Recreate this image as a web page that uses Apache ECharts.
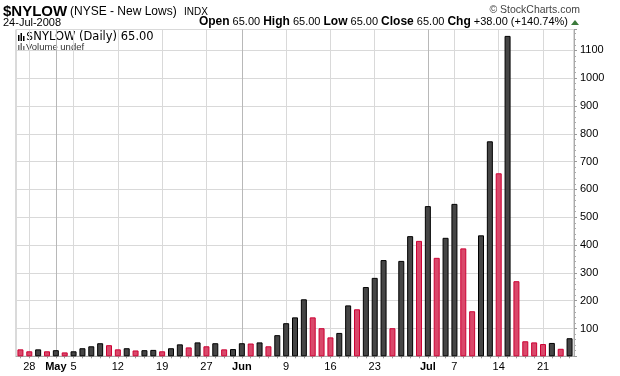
<!DOCTYPE html>
<html>
<head>
<meta charset="utf-8">
<script src="https://cdn.jsdelivr.net/npm/echarts@6/dist/echarts.min.js"></script>
<style>
  html, body { margin: 0; padding: 0; background: #fff; }
  #chart { width: 620px; height: 376px; }
</style>
</head>
<body>
<div id="chart"></div>
<script>
// trading days shown on the chart
const dates = [
  'Apr 25', 'Apr 28', 'Apr 29', 'Apr 30',
  'May 1', 'May 2', 'May 5', 'May 6', 'May 7', 'May 8', 'May 9', 'May 12', 'May 13', 'May 14', 'May 15', 'May 16',
  'May 19', 'May 20', 'May 21', 'May 22', 'May 23', 'May 27', 'May 28', 'May 29', 'May 30',
  'Jun 2', 'Jun 3', 'Jun 4', 'Jun 5', 'Jun 6', 'Jun 9', 'Jun 10', 'Jun 11', 'Jun 12', 'Jun 13',
  'Jun 16', 'Jun 17', 'Jun 18', 'Jun 19', 'Jun 20', 'Jun 23', 'Jun 24', 'Jun 25', 'Jun 26', 'Jun 27', 'Jun 30',
  'Jul 1', 'Jul 2', 'Jul 3', 'Jul 7', 'Jul 8', 'Jul 9', 'Jul 10', 'Jul 11', 'Jul 14', 'Jul 15', 'Jul 16',
  'Jul 17', 'Jul 18', 'Jul 21', 'Jul 22', 'Jul 23', 'Jul 24'
]

// daily close of $NYLOW
const closes = [
  25, 18, 25, 18, 22, 14, 18, 29, 36, 47, 40, 25, 29, 21, 22, 23,
  18, 29, 43, 32, 50, 36, 47, 25, 26,
  47, 46, 50, 36, 76, 119, 140, 205, 140, 101,
  68, 84, 183, 169, 249, 282, 346, 101, 343, 432, 415,
  540, 354, 426, 548, 388, 162, 435, 773, 658, 1152,
  270, 54, 50, 44, 48, 27, 65
]
const prevClose = 30

// x-axis tick labels
const tickDays = ['Apr 28', 'May 5', 'May 12', 'May 19', 'May 27', 'Jun 9', 'Jun 16', 'Jun 23', 'Jul 7', 'Jul 14', 'Jul 21']
const monthStarts = ['May 1', 'Jun 2', 'Jul 1']

const upFill = '#454545'
const upBorder = '#000000'
const downFill = '#d9486a'
const downBorder = '#cc0033'

const chart = echarts.init(document.getElementById('chart'))

// black when the close is above the previous close, red otherwise
const barData = closes.map((v, i) => {
  const prev = i === 0 ? prevClose : closes[i - 1]
  const up = v > prev
  return {
    value: v,
    itemStyle: {
      color: up ? upFill : downFill,
      borderColor: up ? upBorder : downBorder,
      borderWidth: 1
    }
  }
})

const font = '"Liberation Sans", Arial, sans-serif'

const gridLeft = 16
const gridRight = 46
const plotWidth = 620 - gridLeft - gridRight
const halfBand = plotWidth / dates.length / 2

// vertical date lines sit on the middle of a bar, so they use a point axis
// on a second grid that is inset by half a band
function dateLineAxis(list, color) {
  return {
    type: 'category',
    gridIndex: 1,
    data: dates,
    boundaryGap: false,
    axisLine: { show: false },
    axisTick: { show: false },
    axisLabel: { show: false },
    splitLine: {
      show: true,
      interval: (idx, val) => list.includes(val),
      lineStyle: { color: color, width: 1 }
    }
  }
}

const option = {
  animation: false,
  backgroundColor: '#fff',
  title: {
    text: '{b|Open} 65.00 {b|High} 65.00 {b|Low} 65.00 {b|Close} 65.00 {b|Chg} +38.00 (+140.74%)',
    right: 52,
    top: 16,
    padding: 0,
    textStyle: {
      fontFamily: font,
      fontSize: 11,
      fontWeight: 'normal',
      color: '#000',
      rich: {
        b: { fontFamily: font, fontSize: 12, fontWeight: 'bold', color: '#000' }
      }
    }
  },
  grid: [
    {
      left: gridLeft,
      right: gridRight,
      top: 29.5,
      bottom: 19.7,
      show: true,
      borderColor: '#b5b5b5',
      borderWidth: 1
    },
    {
      left: gridLeft + halfBand,
      right: gridRight + halfBand,
      top: 29.5,
      bottom: 19.7
    }
  ],
  xAxis: [
    {
      type: 'category',
      data: dates,
      boundaryGap: true,
      axisLine: { lineStyle: { color: '#aaaaaa' } },
      axisTick: {
        show: true,
        interval: 0,
        alignWithLabel: true,
        length: 2,
        lineStyle: { color: '#999' }
      },
      axisLabel: {
        interval: 0,
        margin: 5,
        color: '#000',
        fontFamily: font,
        fontSize: 11,
        formatter: (val) => {
          if (monthStarts.includes(val)) return '{m|' + val.slice(0, 3) + '}'
          if (tickDays.includes(val)) return val.split(' ')[1]
          return ''
        },
        rich: {
          m: { fontFamily: font, fontSize: 11, fontWeight: 'bold', color: '#000' }
        }
      },
      splitLine: { show: false }
    },
    dateLineAxis(tickDays, '#d9d9d9'),
    dateLineAxis(monthStarts, '#b8b8b8')
  ],
  yAxis: [
    {
      type: 'value',
      position: 'right',
      min: 0,
      max: 1175,
      interval: 100,
      axisLine: { show: true, lineStyle: { color: '#aaaaaa' } },
      axisTick: { show: true, length: 3, lineStyle: { color: '#999' } },
      minorTick: { show: true, splitNumber: 5, length: 2, lineStyle: { color: '#aaa' } },
      axisLabel: {
        margin: 6,
        color: '#000',
        fontFamily: font,
        fontSize: 11,
        formatter: (v) => (v > 0 && v % 100 === 0 ? String(v) : '')
      },
      splitLine: { show: true, lineStyle: { color: '#d9d9d9', width: 1 } }
    },
    {
      type: 'value',
      gridIndex: 1,
      show: false
    }
  ],
  series: [
    {
      name: '$NYLOW',
      type: 'bar',
      xAxisIndex: 0,
      yAxisIndex: 0,
      barWidth: 6,
      data: barData
    }
  ],
  graphic: [
    {
      type: 'text', x: 3, y: 4,
      style: { text: '$NYLOW', font: 'bold 15px ' + font, fill: '#000', align: 'left', verticalAlign: 'top' }
    },
    {
      type: 'text', x: 70, y: 6,
      style: { text: '(NYSE - New Lows)', font: '12px ' + font, fill: '#000', align: 'left', verticalAlign: 'top' }
    },
    {
      type: 'text', x: 184, y: 7,
      style: { text: 'INDX', font: '10px ' + font, fill: '#000', align: 'left', verticalAlign: 'top' }
    },
    {
      type: 'text', x: 580, y: 5,
      style: { text: '\u00a9 StockCharts.com', font: '10.5px ' + font, fill: '#444', align: 'right', verticalAlign: 'top' }
    },
    {
      type: 'text', x: 3, y: 17,
      style: { text: '24-Jul-2008', font: '11px ' + font, fill: '#000', align: 'left', verticalAlign: 'top' }
    },
    {
      type: 'polygon',
      shape: { points: [[571, 25], [579, 25], [575, 20]] },
      style: { fill: '#3b7a3b' }
    },
    // legend icons
    { type: 'rect', shape: { x: 18, y: 35, width: 1.5, height: 6 }, style: { fill: '#000' } },
    { type: 'rect', shape: { x: 20.5, y: 33, width: 1.5, height: 8 }, style: { fill: '#000' } },
    { type: 'rect', shape: { x: 23, y: 36, width: 1.5, height: 5 }, style: { fill: '#000' } },
    { type: 'rect', shape: { x: 18, y: 45, width: 1.5, height: 5 }, style: { fill: '#777' } },
    { type: 'rect', shape: { x: 20.5, y: 43, width: 1.5, height: 7 }, style: { fill: '#777' } },
    { type: 'rect', shape: { x: 23, y: 46, width: 1.5, height: 4 }, style: { fill: '#777' } },
    {
      type: 'text', x: 26, y: 31,
      style: { text: '$NYLOW (Daily) 65.00', font: '11.5px "DejaVu Sans", Verdana, sans-serif', fill: '#000', align: 'left', verticalAlign: 'top' }
    },
    {
      type: 'text', x: 26, y: 42,
      style: { text: 'Volume undef', font: '9.5px ' + font, fill: '#333', align: 'left', verticalAlign: 'top' }
    }
  ]
}

chart.setOption(option)
</script>
</body>
</html>
